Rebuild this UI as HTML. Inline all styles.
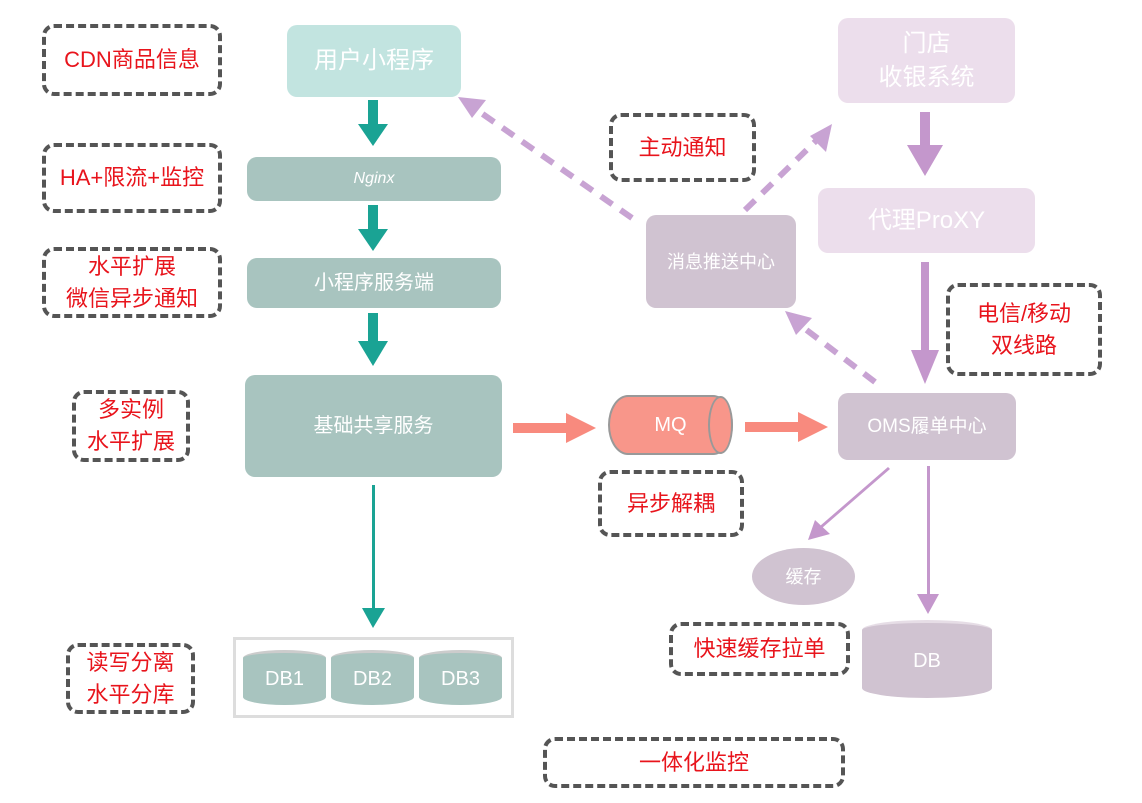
<!DOCTYPE html>
<html><head><meta charset="utf-8"><style>
body{margin:0;width:1142px;height:803px;background:#fff;position:relative;overflow:hidden;font-family:"Liberation Sans","Noto Sans CJK SC",sans-serif}
.a{position:absolute;box-sizing:border-box;display:flex;align-items:center;justify-content:center;text-align:center}
.d{border:4px dashed #555;border-radius:12px;color:#e8141c;font-size:22px;line-height:32px}
.n{border-radius:10px;color:#fff;font-size:20px;line-height:34px}
svg{position:absolute;left:0;top:0}
</style></head><body>
<svg width="1142" height="803">
<defs>
<marker id="pt" markerWidth="6" markerHeight="6" refX="3" refY="3" orient="auto" markerUnits="userSpaceOnUse"></marker>
</defs>
<!-- teal arrows -->
<g fill="#1aa394">
<rect x="368" y="100" width="10" height="26"/><polygon points="358,124 388,124 373,146"/>
<rect x="368" y="205" width="10" height="26"/><polygon points="358,229 388,229 373,251"/>
<rect x="368" y="313" width="10" height="30"/><polygon points="358,341 388,341 373,366"/>
<rect x="372" y="485" width="3" height="125"/><polygon points="362,608 385,608 373,628"/>
</g>
<!-- salmon arrows -->
<g fill="#f88a7e">
<rect x="513" y="423" width="55" height="10"/><polygon points="566,413 596,428 566,443"/>
<rect x="745" y="422" width="55" height="10"/><polygon points="798,412 828,427 798,442"/>
</g>
<!-- purple thick -->
<g fill="#c497cc">
<rect x="920" y="112" width="10" height="35"/><polygon points="907,145 943,145 925,176"/>
<rect x="921" y="262" width="8" height="90"/><polygon points="911,350 939,350 925,384"/>
<rect x="927" y="466" width="3" height="130"/><polygon points="917,594 939,594 928,614"/>
<polygon points="888,467 890,469 822,528 820,526"/><polygon points="808,540 815,520 830,534"/>
</g>
<g stroke="#c8a3d3" stroke-width="6" stroke-dasharray="14,10" fill="none">
<line x1="632" y1="218" x2="474" y2="108"/>
<line x1="745" y1="210" x2="822" y2="135"/>
<line x1="875" y1="382" x2="800" y2="325"/>
</g>
<g fill="#c8a3d3">
<polygon points="458,97 486,100 472,118"/>
<polygon points="832,124 826,152 810,136"/>
<polygon points="785,311 812,318 796,335"/>
</g>
</svg>
<div class="a d" style="left:42px;top:24px;width:180px;height:72px">CDN商品信息</div>
<div class="a d" style="left:42px;top:143px;width:180px;height:70px">HA+限流+监控</div>
<div class="a d" style="left:42px;top:247px;width:180px;height:71px">水平扩展<br>微信异步通知</div>
<div class="a d" style="left:72px;top:390px;width:118px;height:72px">多实例<br>水平扩展</div>
<div class="a d" style="left:66px;top:643px;width:129px;height:71px">读写分离<br>水平分库</div>
<div class="a d" style="left:609px;top:113px;width:147px;height:69px">主动通知</div>
<div class="a d" style="left:946px;top:283px;width:156px;height:93px">电信/移动<br>双线路</div>
<div class="a d" style="left:598px;top:470px;width:146px;height:67px">异步解耦</div>
<div class="a d" style="left:669px;top:622px;width:181px;height:54px">快速缓存拉单</div>
<div class="a d" style="left:543px;top:737px;width:302px;height:51px">一体化监控</div>

<div class="a n" style="left:287px;top:25px;width:174px;height:72px;background:#c2e4e0;font-size:24px">用户小程序</div>
<div class="a n" style="left:247px;top:157px;width:254px;height:44px;background:#a8c4bf;font-size:16px;font-style:italic">Nginx</div>
<div class="a n" style="left:247px;top:258px;width:254px;height:50px;background:#a8c4bf">小程序服务端</div>
<div class="a n" style="left:245px;top:375px;width:257px;height:102px;background:#a8c4bf">基础共享服务</div>
<div class="a" style="left:233px;top:637px;width:281px;height:81px;border:3px solid #ddd"></div>
<div class="a n" style="left:243px;top:650px;width:83px;height:55px;background:#a8c4bf;border-radius:41px/8px;border-top:3px solid #ccc">DB1</div>
<div class="a n" style="left:331px;top:650px;width:83px;height:55px;background:#a8c4bf;border-radius:41px/8px;border-top:3px solid #ccc">DB2</div>
<div class="a n" style="left:419px;top:650px;width:83px;height:55px;background:#a8c4bf;border-radius:41px/8px;border-top:3px solid #ccc">DB3</div>
<div class="a n" style="left:608px;top:395px;width:125px;height:60px;background:#f8968a;border:2px solid #999;border-radius:20px/30px">MQ</div>
<div class="a" style="left:708px;top:396px;width:25px;height:58px;border:2px solid #999;border-radius:50%;background:#f8968a"></div>
<div class="a n" style="left:838px;top:393px;width:178px;height:67px;background:#d0c3d1;font-size:19px">OMS履单中心</div>
<div class="a n" style="left:752px;top:548px;width:103px;height:57px;background:#d0c3d1;border-radius:50%;font-size:18px">缓存</div>
<div class="a n" style="left:862px;top:620px;width:130px;height:78px;background:#d0c3d1;border-radius:65px/10px;border-top:3px solid #e6dde6">DB</div>
<div class="a n" style="left:646px;top:215px;width:150px;height:93px;background:#d0c3d1;font-size:18px">消息推送中心</div>
<div class="a n" style="left:838px;top:18px;width:177px;height:85px;background:#ecdeec;font-size:24px">门店<br>收银系统</div>
<div class="a n" style="left:818px;top:188px;width:217px;height:65px;background:#ecdeec;font-size:24px">代理ProXY</div>
</body></html>
